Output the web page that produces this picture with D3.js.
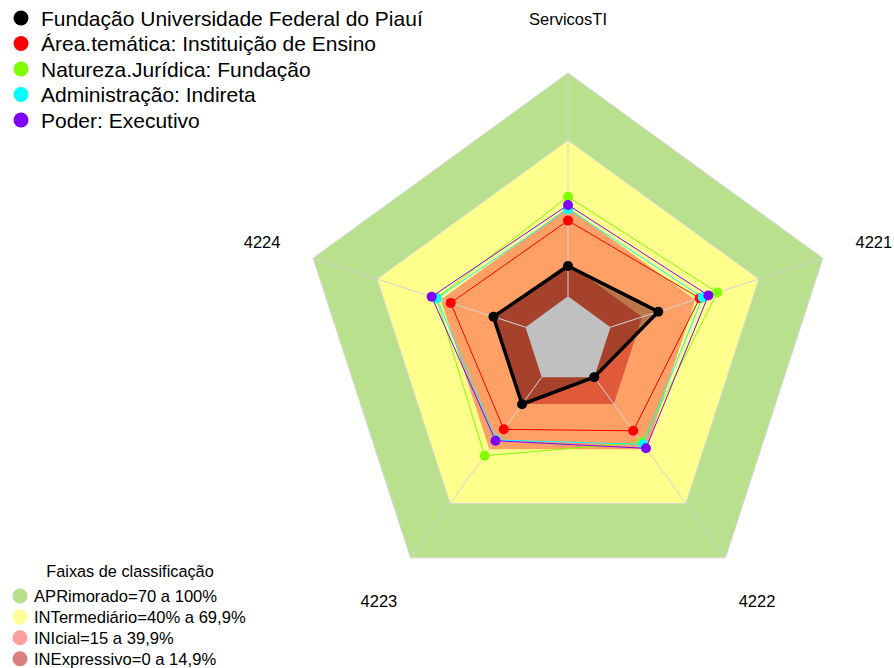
<!DOCTYPE html>
<html>
<head>
<meta charset="utf-8">
<script src="https://cdn.jsdelivr.net/npm/d3@7"></script>
<style>
  html, body { margin: 0; padding: 0; background: #ffffff; }
  svg { display: block; }
  text { font-family: "Liberation Sans", Arial, sans-serif; fill: #000; }
</style>
</head>
<body>
<svg id="chart" width="894" height="668"></svg>
<script>
// ---- Data ----
const categories = ["ServicosTI", "4221", "4222", "4223", "4224"];

const seriesNames = [
  "Fundação Universidade Federal do Piauí",
  "Área.temática: Instituição de Ensino",
  "Natureza.Jurídica: Fundação",
  "Administração: Indireta",
  "Poder: Executivo"
];
const seriesColors = ["#000000", "#FF0000", "#7FFF00", "#00FFFF", "#8000FF"];

const fupValues       = [0.136, 0.225, 0.000, 0.150, 0.151];
const areaValues      = [0.339, 0.420, 0.297, 0.289, 0.352];
const naturezaValues  = [0.446, 0.503, 0.361, 0.435, 0.420];
const adminValues     = [0.390, 0.434, 0.372, 0.348, 0.418];
const poderValues     = [0.409, 0.461, 0.394, 0.352, 0.442];
const seriesValues = [fupValues, areaValues, naturezaValues, adminValues, poderValues];

// Classification bands (upper limits, as proportions)
const bandLimits = [1.0, 0.699, 0.399, 0.149];
const bandFills  = ["#B9E08D", "#FFFF8D", "#FFA066", "#E05A3A"];
const bandLegendLabels = [
  "APRimorado=70 a 100%",
  "INTermediário=40% a 69,9%",
  "INIcial=15 a 39,9%",
  "INExpressivo=0 a 14,9%"
];
const bandLegendColors = ["#B8E08C", "#FFFF99", "#FFA0A0", "#D98080"];
const legendTitle = "Faixas de classificação";

// ---- Layout ----
const svg = d3.select("#chart");
const cx = 568, cy = 341, R = 268;
const nSeg = 5;

const rScale = d3.scaleLinear().domain([0, 1]).range([R / (nSeg + 1), R]);
const angleScale = d3.scalePoint().domain(categories).range([0, 2 * Math.PI * (categories.length - 1) / categories.length]);
// clockwise from top
function pt(cat, v) {
  const a = angleScale(cat);
  const r = rScale(v);
  return [cx + r * Math.sin(a), cy - r * Math.cos(a)];
}
const lineGen = d3.line().curve(d3.curveLinearClosed);

// Bands
const g = svg.append("g");
bandLimits.forEach((lim, i) => {
  g.append("path")
    .attr("d", lineGen(categories.map(c => pt(c, lim))))
    .attr("fill", bandFills[i])
    .attr("stroke", i < 2 ? "#D6D6D6" : "none")
    .attr("stroke-width", 1);
});

// FUP fill (semi-transparent)
g.append("path")
  .attr("d", lineGen(categories.map((c, j) => pt(c, fupValues[j]))))
  .attr("fill", "rgba(0,0,0,0.26)")
  .attr("stroke", "none");

// Center (value 0) polygon in gray
g.append("path")
  .attr("d", lineGen(categories.map(c => pt(c, 0))))
  .attr("fill", "#C0C0C0")
  .attr("stroke", "none");

// Axis spokes
categories.forEach(c => {
  const p0 = pt(c, 0), p1 = pt(c, 1);
  g.append("line")
    .attr("x1", p0[0]).attr("y1", p0[1])
    .attr("x2", p1[0]).attr("y2", p1[1])
    .attr("stroke", "#D3D3D3").attr("stroke-width", 1);
});

// Series
seriesValues.forEach((vals, i) => {
  const pts = categories.map((c, j) => pt(c, vals[j]));
  g.append("path")
    .attr("d", lineGen(pts))
    .attr("fill", "none")
    .attr("stroke", seriesColors[i])
    .attr("stroke-width", i === 0 ? 3.5 : 1)
    .attr("stroke-linejoin", "round");
  g.selectAll(null).data(pts).enter().append("circle")
    .attr("cx", d => d[0]).attr("cy", d => d[1])
    .attr("r", 5)
    .attr("fill", seriesColors[i]);
});

// Axis labels
categories.forEach(c => {
  const a = angleScale(c);
  const r = R * 1.2;
  svg.append("text")
    .attr("x", cx + r * Math.sin(a))
    .attr("y", cy - r * Math.cos(a))
    .attr("text-anchor", "middle")
    .attr("dominant-baseline", "central")
    .attr("font-size", 16.5)
    .text(c);
});

// Top legend
const leg = svg.append("g");
seriesNames.forEach((name, i) => {
  const y = 18 + i * 25.5;
  leg.append("circle").attr("cx", 21).attr("cy", y).attr("r", 7.5).attr("fill", seriesColors[i]);
  leg.append("text").attr("x", 41).attr("y", y + 7.5).attr("font-size", 21).text(name);
});

// Bottom legend
const leg2 = svg.append("g");
leg2.append("text").attr("x", 130).attr("y", 577).attr("text-anchor", "middle").attr("font-size", 16.3).text(legendTitle);
bandLegendLabels.forEach((lab, i) => {
  const y = 596 + i * 20.9;
  leg2.append("circle").attr("cx", 20).attr("cy", y).attr("r", 7.5).attr("fill", bandLegendColors[i]);
  leg2.append("text").attr("x", 34).attr("y", y + 5.8).attr("font-size", 16.6).text(lab);
});
</script>
</body>
</html>
